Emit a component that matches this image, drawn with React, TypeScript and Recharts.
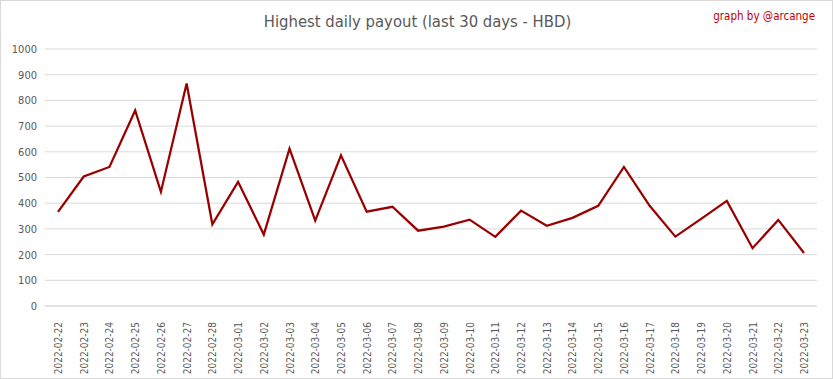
import React from "react";
import { LineChart, Line, XAxis, YAxis, CartesianGrid } from "recharts";

const dates = [
  "2022-02-22", "2022-02-23", "2022-02-24", "2022-02-25", "2022-02-26", "2022-02-27",
  "2022-02-28", "2022-03-01", "2022-03-02", "2022-03-03", "2022-03-04", "2022-03-05",
  "2022-03-06", "2022-03-07", "2022-03-08", "2022-03-09", "2022-03-10", "2022-03-11",
  "2022-03-12", "2022-03-13", "2022-03-14", "2022-03-15", "2022-03-16", "2022-03-17",
  "2022-03-18", "2022-03-19", "2022-03-20", "2022-03-21", "2022-03-22", "2022-03-23",
];

const payouts = [
  366, 504, 541, 761, 444, 866, 318, 483, 278, 612, 332, 586, 367, 386, 293,
  309, 336, 269, 371, 312, 343, 390, 541, 390, 270, 339, 409, 225, 335, 206,
];

const yTicks = [0, 100, 200, 300, 400, 500, 600, 700, 800, 900, 1000];

const data = dates.map((d, i) => ({ date: d, value: payouts[i] }));

const FONT = "'Liberation Sans Narrow', 'DejaVu Sans Condensed', Roboto, sans-serif";

function DateTick(props: any) {
  const { x, y, payload } = props;
  return (
    <text
      transform={`translate(${x + 4},${y + 8}) rotate(-90)`}
      textAnchor="end"
      fontSize={10}
      fill="#595959"
      fontFamily={FONT}
    >
      {payload.value}
    </text>
  );
}

export default function App() {
  return (
    <div
      style={{
        position: "fixed",
        left: 0,
        top: 0,
        width: 833,
        height: 379,
        background: "#fff",
        boxSizing: "border-box",
        border: "1px solid #d9d9d9",
        fontFamily: FONT,
      }}
    >
      <div
        style={{
          position: "absolute",
          top: 11,
          left: 0,
          width: 833,
          textAlign: "center",
          fontSize: 16.5,
          color: "#595959",
        }}
      >
        Highest daily payout (last 30 days - HBD)
      </div>
      <div
        style={{
          position: "absolute",
          top: 8,
          right: 17,
          fontSize: 11.5,
          color: "#c00000",
        }}
      >
        graph by @arcange
      </div>
      <div style={{ position: "absolute", left: -1, top: -1 }}>
        <LineChart width={833} height={379} data={data} margin={{ top: 49, right: 16, left: 0, bottom: 3 }}>
          <CartesianGrid vertical={false} stroke="#d9d9d9" />
          <XAxis
            dataKey="date"
            interval={0}
            height={70}
            padding={{ left: 13, right: 13 }}
            tick={<DateTick />}
            tickLine={false}
            axisLine={{ stroke: "#d9d9d9" }}
          />
          <YAxis
            width={45}
            domain={[0, 1000]}
            ticks={yTicks}
            tickLine={false}
            axisLine={false}
            tick={{ fontSize: 11, fill: "#595959", fontFamily: FONT }}
          />
          <Line
            type="linear"
            dataKey="value"
            stroke="#990000"
            strokeWidth={2.25}
            dot={false}
            isAnimationActive={false}
          />
        </LineChart>
      </div>
    </div>
  );
}
